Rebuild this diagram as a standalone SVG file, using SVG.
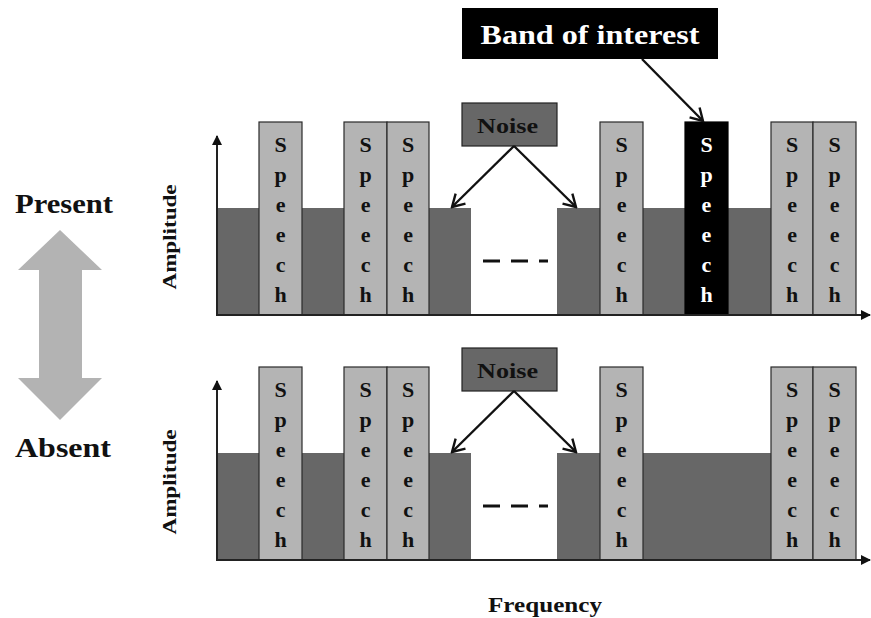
<svg xmlns="http://www.w3.org/2000/svg" width="871" height="618" viewBox="0 0 871 618">
<defs>
<style>
.noise{fill:#676767;}
.sp{fill:#b4b4b4;stroke:#2a2a2a;stroke-width:1.2;}
.spb{fill:#000;stroke:#000;stroke-width:1.2;}
.lt{font-family:"Liberation Serif","Times New Roman",serif;font-weight:bold;font-size:22px;fill:#111;text-anchor:middle;}
.ltw{fill:#fff;}
.lbl{font-family:"Liberation Serif","Times New Roman",serif;font-weight:bold;fill:#111;}
.axis{stroke:#222;stroke-width:2;fill:none;}
.conn{stroke:#111;stroke-width:2.4;fill:none;}
</style>
<marker id="ah" markerWidth="10" markerHeight="10" refX="9" refY="5" orient="auto" markerUnits="userSpaceOnUse" viewBox="0 0 10 10">
<path d="M0,0 L10,5 L0,10 Z" fill="#111"/>
</marker>
<marker id="oa" markerWidth="16" markerHeight="16" refX="14" refY="8" orient="auto" markerUnits="userSpaceOnUse" viewBox="0 0 16 16">
<path d="M2,1 L14,8 L2,15" fill="none" stroke="#111" stroke-width="2.4"/>
</marker>
<g id="sp-letters">
<text class="lt"><tspan x="0" y="0">S</tspan><tspan x="0" y="30">p</tspan><tspan x="0" y="60">e</tspan><tspan x="0" y="90">e</tspan><tspan x="0" y="120">c</tspan><tspan x="0" y="150">h</tspan></text>
</g>
</defs>
<rect width="871" height="618" fill="#fff"/>

<!-- Left labels -->
<g id="present"><text class="lbl" x="15" y="213" font-size="28" textLength="98" lengthAdjust="spacingAndGlyphs">Present</text></g>
<g id="absent"><text class="lbl" x="15" y="457" font-size="28" textLength="96" lengthAdjust="spacingAndGlyphs">Absent</text></g>
<g id="double-arrow"><path d="M60,230 L102,270 L82,270 L82,378 L102,378 L60,420 L18,378 L39,378 L39,270 L18,270 Z" fill="#b3b3b3"/></g>

<!-- Top panel -->
<g id="top-panel">
<g id="top-noise">
<rect class="noise" x="217" y="208" width="254" height="107"/>
<rect class="noise" x="557" y="208" width="214" height="107"/>
</g>
<g id="top-speech">
<rect class="sp" x="259" y="122" width="43" height="193"/>
<rect class="sp" x="344" y="122" width="43" height="193"/>
<rect class="sp" x="387" y="122" width="42" height="193"/>
<rect class="sp" x="600" y="122" width="43" height="193"/>
<rect class="spb" x="685" y="122" width="43" height="193"/>
<rect class="sp" x="771" y="122" width="42" height="193"/>
<rect class="sp" x="813" y="122" width="43" height="193"/>
<use href="#sp-letters" x="280.5" y="152"/>
<use href="#sp-letters" x="365.5" y="152"/>
<use href="#sp-letters" x="408" y="152"/>
<use href="#sp-letters" x="621.5" y="152"/>
<g style="fill:#fff"><text class="lt ltw"><tspan x="706.5" y="152">S</tspan><tspan x="706.5" y="182">p</tspan><tspan x="706.5" y="212">e</tspan><tspan x="706.5" y="242">e</tspan><tspan x="706.5" y="272">c</tspan><tspan x="706.5" y="302">h</tspan></text></g>
<use href="#sp-letters" x="792" y="152"/>
<use href="#sp-letters" x="834.5" y="152"/>
</g>
<line x1="483" y1="261" x2="548" y2="261" stroke="#111" stroke-width="3" stroke-dasharray="17,11"/>
<line class="axis" x1="217" y1="315" x2="217" y2="136" marker-end="url(#ah)"/>
<line class="axis" x1="216" y1="315" x2="870" y2="315" marker-end="url(#ah)"/>
<text class="lbl" font-size="19" transform="translate(176,237) rotate(-90)" text-anchor="middle" textLength="105" lengthAdjust="spacingAndGlyphs">Amplitude</text>
</g>

<!-- Bottom panel -->
<g id="bottom-panel">
<g id="bottom-noise">
<rect class="noise" x="217" y="453" width="254" height="107"/>
<rect class="noise" x="557" y="453" width="214" height="107"/>
</g>
<g id="bottom-speech">
<rect class="sp" x="259" y="367" width="43" height="193"/>
<rect class="sp" x="344" y="367" width="43" height="193"/>
<rect class="sp" x="387" y="367" width="42" height="193"/>
<rect class="sp" x="600" y="367" width="43" height="193"/>
<rect class="sp" x="771" y="367" width="42" height="193"/>
<rect class="sp" x="813" y="367" width="43" height="193"/>
<use href="#sp-letters" x="280.5" y="397"/>
<use href="#sp-letters" x="365.5" y="397"/>
<use href="#sp-letters" x="408" y="397"/>
<use href="#sp-letters" x="621.5" y="397"/>
<use href="#sp-letters" x="792" y="397"/>
<use href="#sp-letters" x="834.5" y="397"/>
</g>
<line x1="483" y1="506" x2="548" y2="506" stroke="#111" stroke-width="3" stroke-dasharray="17,11"/>
<line class="axis" x1="217" y1="560" x2="217" y2="381" marker-end="url(#ah)"/>
<line class="axis" x1="216" y1="560" x2="870" y2="560" marker-end="url(#ah)"/>
<text class="lbl" font-size="19" transform="translate(176,482) rotate(-90)" text-anchor="middle" textLength="105" lengthAdjust="spacingAndGlyphs">Amplitude</text>
</g>

<g id="frequency"><text class="lbl" x="545" y="612" font-size="21" text-anchor="middle" textLength="114" lengthAdjust="spacingAndGlyphs">Frequency</text></g>

<!-- Callout nodes -->
<g id="band-of-interest">
<rect x="462" y="8" width="256" height="51" fill="#000"/>
<text class="lbl" x="590" y="44" font-size="27" fill="#fff" style="fill:#fff" text-anchor="middle" textLength="219" lengthAdjust="spacingAndGlyphs">Band of interest</text>
</g>
<g id="noise-top">
<rect x="462" y="103" width="95" height="43" fill="#676767" stroke="#222" stroke-width="1.2"/>
<text class="lbl" x="507.5" y="133" font-size="22" text-anchor="middle" textLength="61" lengthAdjust="spacingAndGlyphs">Noise</text>
</g>
<g id="noise-bottom">
<rect x="462" y="348" width="95" height="43" fill="#676767" stroke="#222" stroke-width="1.2"/>
<text class="lbl" x="507.5" y="378" font-size="22" text-anchor="middle" textLength="61" lengthAdjust="spacingAndGlyphs">Noise</text>
</g>

<g id="connectors">
<line class="conn" x1="642" y1="59" x2="703" y2="121" marker-end="url(#oa)"/>
<line class="conn" x1="514" y1="146" x2="452" y2="207" marker-end="url(#oa)"/>
<line class="conn" x1="514" y1="146" x2="576" y2="207" marker-end="url(#oa)"/>
<line class="conn" x1="514" y1="391" x2="452" y2="452" marker-end="url(#oa)"/>
<line class="conn" x1="514" y1="391" x2="576" y2="452" marker-end="url(#oa)"/>
</g>
</svg>
